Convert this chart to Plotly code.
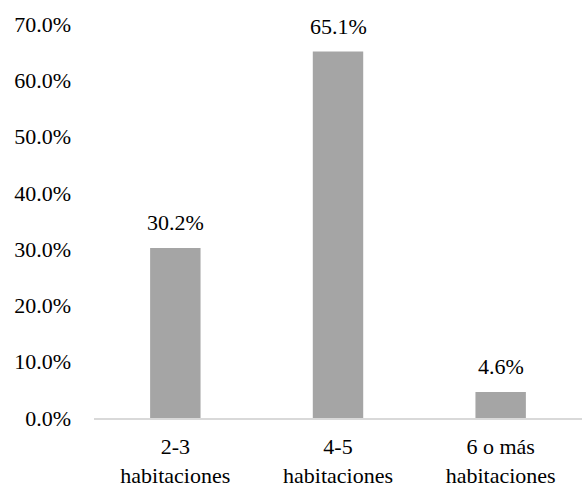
import plotly.graph_objects as go

categories = ["2-3<br>habitaciones", "4-5<br>habitaciones", "6 o más<br>habitaciones"]
values = [30.2, 65.1, 4.6]
value_labels = ["30.2%", "65.1%", "4.6%"]
tick_vals = [0, 10, 20, 30, 40, 50, 60, 70]
tick_text = ["0.0%", "10.0%", "20.0%", "30.0%", "40.0%", "50.0%", "60.0%", "70.0%"]

FONT = "Liberation Serif"

fig = go.Figure()
fig.add_trace(go.Bar(
    x=categories, y=values,
    marker=dict(color="#a5a5a5", line=dict(width=0)),
    width=0.31,
    hoverinfo="skip",
))
for c, v, t in zip(categories, values, value_labels):
    fig.add_annotation(x=c, y=v, text=t, showarrow=False, yanchor="bottom",
                       yshift=11, font=dict(family=FONT, size=22, color="#000000"))

fig.update_layout(
    width=582, height=483,
    margin=dict(l=94, r=0, t=24, b=65),
    paper_bgcolor="white", plot_bgcolor="white",
    font=dict(family=FONT, size=22, color="#000000"),
    showlegend=False,
)
fig.update_xaxes(showline=True, linecolor="#d9d9d9", linewidth=1.5, ticks="",
                 showgrid=False, automargin=False, ticklabelstandoff=8,
                 tickfont=dict(family=FONT, size=22))
fig.update_yaxes(range=[0, 70], tickvals=tick_vals, ticktext=tick_text,
                 showgrid=False, zeroline=False, showline=False, ticks="",
                 automargin=False, ticklabelstandoff=22,
                 tickfont=dict(family=FONT, size=22))

fig.write_html("out.html", config={"displayModeBar": False},
               post_script="document.body.style.margin='0px';")
